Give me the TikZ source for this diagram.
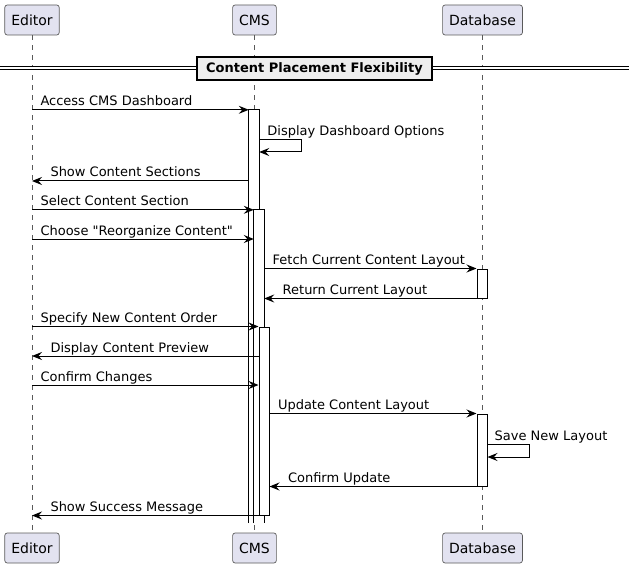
\documentclass[tikz,border=0pt]{standalone}
\usepackage{fontspec}
\newfontfamily\umlfont{DejaVu Sans}
\usetikzlibrary{arrows.meta,positioning}

\definecolor{partfill}{HTML}{E2E2F0}
\definecolor{partline}{HTML}{5A5A5A}
\definecolor{sepfill}{HTML}{EEEEEE}

\begin{document}
\begin{tikzpicture}[x=1pt,y=-1pt,>={Stealth[length=10pt,width=8pt,inset=3.5pt]},
    part/.style={draw=partline,fill=partfill,rounded corners=2.5pt,minimum height=30pt,
                 inner xsep=6.5pt,line width=0.7pt,font=\umlfont\fontsize{14}{16}\selectfont},
    life/.style={draw=partline,line width=0.6pt,dash pattern=on 5pt off 5pt},
    act/.style={fill=white,minimum width=10pt,inner sep=0pt},
    msg/.style={->,line width=1pt},
    lbl/.style={anchor=base west,inner sep=0pt,font=\umlfont\fontsize{13}{15}\selectfont},
    divider/.style={draw,fill=sepfill,line width=1.8pt,minimum width=235pt,minimum height=23pt,
                 inner sep=0pt,font=\umlfont\bfseries\fontsize{13}{15}\selectfont}]

\useasboundingbox (0,0) rectangle (635,567);

% participants
\node[part] (Ed)  at (32,20)    {Editor};
\node[part] (CMS) at (254.5,20) {CMS};
\node[part] (DB)  at (482.5,20) {Database};

\node[part] (EdB)  at (32,548)    {Editor};
\node[part] (CMSB) at (254.5,548) {CMS};
\node[part] (DBB)  at (482.5,548) {Database};

\draw[life] (Ed) -- (EdB);
\draw[life] (CMS) -- (CMSB);
\draw[life] (DB) -- (DBB);

% section divider
\draw[line width=1pt,double,double distance=2.3pt] (0,68.2) -- (629,68.2);
\node[divider] (sep) at (314.5,68.5) {Content Placement Flexibility};

% activations
\node[act, minimum height=413pt] (A1) at (254,316.5) {};
\draw[line width=1pt] (A1.south west) -- (A1.north west) -- (A1.north east) -- (A1.south east);
\node[act, minimum height=313pt] (A2) at (259,366.5) {};
\draw[line width=1pt] (A2.south west) -- (A2.north west) -- (A2.north east) -- (A2.south east);
\node[act, draw, line width=1pt, minimum height=188pt] (A3) at (264,421) {};
\node[act, draw, line width=1pt, minimum height=29pt] (D1) at (482,283.5) {};
\node[act, draw, line width=1pt, minimum height=72pt] (D2) at (482,450) {};

% points on the lifelines
\coordinate (e3)  at (32,181);
\coordinate (e5)  at (32,239);
\coordinate (e9)  at (32,356);
\coordinate (e10) at (32,385);
\coordinate (s1a) at (301,140);
\coordinate (s1b) at (301,152);
\coordinate (s2a) at (529,444);
\coordinate (s2b) at (529,457);

% messages
\draw[msg] (A1.north west -| Ed) -- (A1.north west)
      node[lbl, at start, xshift=8pt, yshift=4pt] (t1) {Access CMS Dashboard};
\draw[msg] (s1a -| A1.east) -- (s1a) -- (s1b) -- (s1b -| A1.east);
\node[lbl, xshift=8pt, yshift=4pt] (t2) at (s1a -| A1.east) {Display Dashboard Options};
\draw[msg] (e3 -| A1.west) -- (e3)
      node[lbl, at end, xshift=18pt, yshift=4pt] (t3) {Show Content Sections};
\draw[msg] (A2.north west -| Ed) -- (A2.north west)
      node[lbl, at start, xshift=8pt, yshift=4pt] (t4) {Select Content Section};
\draw[msg] (e5) -- (e5 -| A2.west)
      node[lbl, at start, xshift=8pt, yshift=4pt] (t5) {Choose "Reorganize Content"};
\draw[msg] (D1.north west -| A2.east) -- (D1.north west)
      node[lbl, at start, xshift=8pt, yshift=4pt] (t6) {Fetch Current Content Layout};
\draw[msg] (D1.south west) -- (D1.south west -| A2.east)
      node[lbl, at end, xshift=18pt, yshift=4pt] (t7) {Return Current Layout};
\draw[msg] (A3.north west -| Ed) -- (A3.north west)
      node[lbl, at start, xshift=8pt, yshift=4pt] (t8) {Specify New Content Order};
\draw[msg] (e9 -| A3.west) -- (e9)
      node[lbl, at end, xshift=18pt, yshift=4pt] (t9) {Display Content Preview};
\draw[msg] (e10) -- (e10 -| A3.west)
      node[lbl, at start, xshift=8pt, yshift=4pt] (t10) {Confirm Changes};
\draw[msg] (D2.north west -| A3.east) -- (D2.north west)
      node[lbl, at start, xshift=8pt, yshift=4pt] (t11) {Update Content Layout};
\draw[msg] (s2a -| D2.east) -- (s2a) -- (s2b) -- (s2b -| D2.east);
\node[lbl, xshift=7pt, yshift=4pt] (t12) at (s2a -| D2.east) {Save New Layout};
\draw[msg] (D2.south west) -- (D2.south west -| A3.east)
      node[lbl, at end, xshift=18pt, yshift=4pt] (t13) {Confirm Update};
\draw[msg] (A3.south west) -- (A3.south west -| Ed)
      node[lbl, at end, xshift=18pt, yshift=4pt] (t14) {Show Success Message};
\end{tikzpicture}
\end{document}
